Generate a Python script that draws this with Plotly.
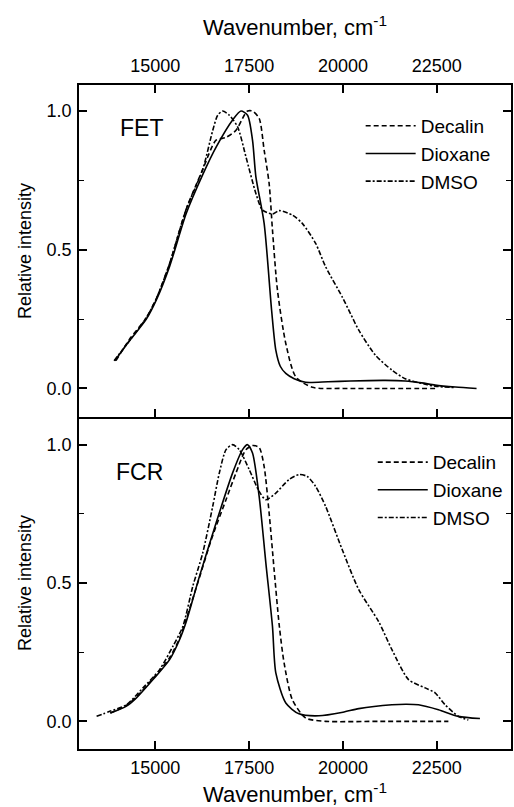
import plotly.graph_objects as go

# ---------- data ----------
# FET panel (top)
fet_decalin_x = [13950, 14300, 14760, 15030, 15380, 15820, 16264, 16619, 16884, 17150, 17370, 17458, 17590, 17767, 17900, 18033, 18122, 18255, 18477, 18742, 19183, 20000, 21000, 22457]
fet_decalin_y = [0.10, 0.175, 0.255, 0.325, 0.45, 0.645, 0.79, 0.895, 0.905, 0.931, 0.985, 1.0, 1.0, 0.974, 0.859, 0.739, 0.571, 0.354, 0.162, 0.042, 0.004, 0.0, 0.0, 0.0]

fet_dioxane_x = [13920, 14300, 14760, 15030, 15380, 15820, 16260, 16620, 17060, 17282, 17458, 17590, 17680, 17900, 18100, 18211, 18330, 18477, 18700, 19007, 19600, 20200, 21130, 21660, 22100, 22457, 23000, 23562]
fet_dioxane_y = [0.10, 0.17, 0.25, 0.32, 0.44, 0.63, 0.77, 0.87, 0.968, 1.0, 0.985, 0.895, 0.763, 0.595, 0.28, 0.138, 0.08, 0.054, 0.035, 0.022, 0.024, 0.027, 0.029, 0.027, 0.02, 0.012, 0.005, 0.0]

fet_dmso_x = [13900, 14300, 14760, 15030, 15380, 15820, 16264, 16529, 16662, 16794, 16972, 17193, 17415, 17680, 17856, 18122, 18300, 18652, 18917, 19273, 19538, 19980, 20200, 20422, 20865, 21306, 21661, 22192, 22457, 23000]
fet_dmso_y = [0.10, 0.17, 0.255, 0.325, 0.45, 0.645, 0.79, 0.93, 0.985, 1.0, 0.985, 0.943, 0.835, 0.703, 0.643, 0.629, 0.641, 0.625, 0.595, 0.523, 0.439, 0.33, 0.27, 0.21, 0.12, 0.066, 0.035, 0.015, 0.008, 0.003]

# FCR panel (bottom)
fcr_decalin_x = [13800, 14230, 14496, 14938, 15380, 15645, 15823, 16176, 16500, 16884, 17150, 17414, 17590, 17767, 17900, 18033, 18166, 18300, 18432, 18652, 19007, 19538, 21000, 22811]
fcr_decalin_y = [0.03, 0.058, 0.088, 0.155, 0.23, 0.30, 0.37, 0.52, 0.66, 0.801, 0.898, 0.982, 0.997, 0.99, 0.921, 0.753, 0.548, 0.35, 0.211, 0.078, 0.012, 0.0, 0.0, 0.0]

fcr_dioxane_x = [13800, 14230, 14496, 14938, 15380, 15645, 15823, 16176, 16619, 17060, 17325, 17458, 17590, 17767, 17946, 18122, 18211, 18477, 18829, 19360, 20000, 20422, 21306, 21700, 22015, 22546, 23077, 23652]
fcr_dioxane_y = [0.03, 0.055, 0.085, 0.151, 0.223, 0.295, 0.36, 0.524, 0.717, 0.898, 0.982, 1.0, 0.97, 0.813, 0.572, 0.343, 0.175, 0.066, 0.027, 0.02, 0.033, 0.046, 0.06, 0.062, 0.06, 0.042, 0.018, 0.01]

fcr_dmso_x = [13434, 13787, 14230, 14671, 15114, 15467, 15733, 15998, 16264, 16529, 16706, 16884, 17060, 17237, 17502, 17767, 17946, 18211, 18564, 18829, 19050, 19273, 19538, 19980, 20422, 20953, 21306, 21748, 22192, 22457, 22723, 23077, 23342]
fcr_dmso_y = [0.018, 0.036, 0.06, 0.121, 0.187, 0.271, 0.343, 0.488, 0.609, 0.777, 0.898, 0.982, 1.0, 0.982, 0.91, 0.831, 0.801, 0.825, 0.874, 0.892, 0.885, 0.849, 0.777, 0.621, 0.476, 0.36, 0.259, 0.151, 0.121, 0.103, 0.06, 0.018, 0.005]

x_tickvals = [15000, 17500, 20000, 22500]
y_tickvals = [0.0, 0.5, 1.0]
series_names = ["Decalin", "Dioxane", "DMSO"]
panel_labels = ["FET", "FCR"]

# ---------- figure ----------
FONT = "Liberation Sans, Arial, sans-serif"
dash_styles = {"Decalin": "5px,3px", "Dioxane": "solid", "DMSO": "5px,2px,2px,2px"}

fig = go.Figure()

top = [(fet_decalin_x, fet_decalin_y), (fet_dioxane_x, fet_dioxane_y), (fet_dmso_x, fet_dmso_y)]
bot = [(fcr_decalin_x, fcr_decalin_y), (fcr_dioxane_x, fcr_dioxane_y), (fcr_dmso_x, fcr_dmso_y)]

for name, (xs, ys) in zip(series_names, top):
    fig.add_trace(go.Scatter(x=xs, y=ys, mode="lines", name=name, xaxis="x2", yaxis="y2",
                             line=dict(color="black", width=1.6, dash=dash_styles[name], shape="spline", smoothing=0.7),
                             legend="legend"))
for name, (xs, ys) in zip(series_names, bot):
    fig.add_trace(go.Scatter(x=xs, y=ys, mode="lines", name=name, xaxis="x", yaxis="y",
                             line=dict(color="black", width=1.6, dash=dash_styles[name], shape="spline", smoothing=0.7),
                             legend="legend2"))

xr = [12965, 24480]
axis_common = dict(showline=True, linecolor="black", linewidth=1.5, showgrid=False, zeroline=False,
                   automargin=False,
                   ticks="inside", ticklen=8, tickwidth=1.5, tickcolor="black",
                   tickfont=dict(family=FONT, size=18, color="black"))

fig.update_layout(
    width=514, height=807,
    margin=dict(l=79, r=1, t=85, b=58),
    paper_bgcolor="white", plot_bgcolor="white",
    font=dict(family=FONT, color="black"),
    xaxis=dict(axis_common, range=xr, domain=[0, 1], anchor="y", side="bottom", mirror=False,
               tickvals=x_tickvals, tickformat="d", ticklabelstandoff=2,
               title=dict(text="Wavenumber, cm<sup>-1</sup>", font=dict(family=FONT, size=22), standoff=9)),
    xaxis2=dict(axis_common, range=xr, domain=[0, 1], anchor="y2", side="top", mirror="ticks",
                tickvals=x_tickvals, tickformat="d", ticklabelstandoff=4,
                title=dict(text="Wavenumber, cm<sup>-1</sup>", font=dict(family=FONT, size=22), standoff=14)),
    yaxis=dict(axis_common, automargin=True, range=[-0.1, 1.1], domain=[0, 0.5], anchor="x", mirror="ticks",
               tickvals=y_tickvals, tickformat=".1f", ticklabelstandoff=2,
               minor=dict(dtick=0.25, tick0=0, ticks="inside", ticklen=5, tickwidth=1.2, tickcolor="black"),
               title=dict(text="Relative intensity", font=dict(family=FONT, size=18), standoff=10)),
    yaxis2=dict(axis_common, automargin=True, range=[-0.103, 1.094], domain=[0.5, 1], anchor="x2", mirror="ticks",
                tickvals=y_tickvals, tickformat=".1f", ticklabelstandoff=2,
                minor=dict(dtick=0.25, tick0=0, ticks="inside", ticklen=5, tickwidth=1.2, tickcolor="black"),
                title=dict(text="Relative intensity", font=dict(family=FONT, size=18), standoff=10)),
    legend=dict(x=0.652, y=0.967, xanchor="left", yanchor="top", bgcolor="rgba(0,0,0,0)",
                font=dict(family=FONT, size=19), itemwidth=50, tracegroupgap=0),
    legend2=dict(x=0.68, y=0.4605, xanchor="left", yanchor="top", bgcolor="rgba(0,0,0,0)",
                 font=dict(family=FONT, size=19), itemwidth=50, tracegroupgap=0),
    showlegend=True,
    annotations=[
        dict(text=panel_labels[0], xref="paper", yref="paper", x=0.1445, y=0.935, showarrow=False,
             font=dict(family=FONT, size=23), xanchor="center", yanchor="middle"),
        dict(text=panel_labels[1], xref="paper", yref="paper", x=0.1406, y=0.4176, showarrow=False,
             font=dict(family=FONT, size=23), xanchor="center", yanchor="middle"),
    ],
)

# remove the default 8px page margin so the figure fills the 514x807 window exactly
fig.write_html("out.html", config={"displayModeBar": False},
               post_script="document.body.style.margin='0';document.body.style.overflow='hidden';")
